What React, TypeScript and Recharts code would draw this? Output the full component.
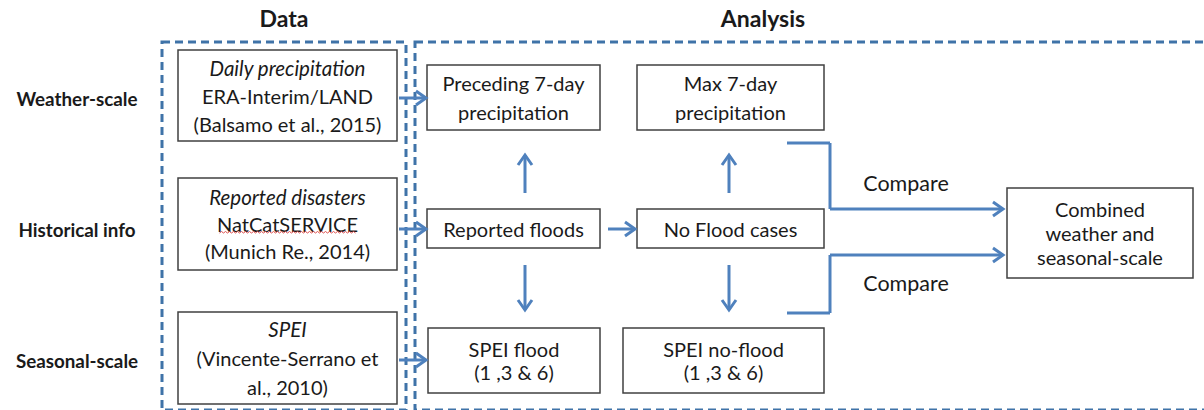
import * as React from 'react';
import { ReferenceArea, ReferenceLine, Scatter, ScatterChart, XAxis, YAxis } from 'recharts';

// ---- content ----
const groupTitles = ['Data', 'Analysis'];
const rowLabels = ['Weather-scale', 'Historical info', 'Seasonal-scale'];
const sourceTitles = ['Daily precipitation', 'Reported disasters', 'SPEI'];
const sourceRefs = [
  ['ERA-Interim/LAND', '(Balsamo et al., 2015)'],
  ['NatCatSERVICE', '(Munich Re., 2014)'],
  ['(Vincente-Serrano et', 'al., 2010)'],
];
const floodSteps = [['Preceding 7-day', 'precipitation'], ['Reported floods'], ['SPEI flood', '(1 ,3 & 6)']];
const noFloodSteps = [['Max 7-day', 'precipitation'], ['No Flood cases'], ['SPEI no-flood', '(1 ,3 & 6)']];
const resultLines = ['Combined', 'weather and', 'seasonal-scale'];
const edgeLabels = ['Compare', 'Compare'];

// ---- layout (diagram units = px) ----
const W = 1204;
const H = 410;
const FONT = 'Lato, "Open Sans", sans-serif';
const ARROW = '#4f81bd';
const DASH = '#3f73a8';
const BOX = '#404040';
const TEXT = '#1a1a1a';

const rowY = [98, 229, 360];
const sourceBoxes = [
  { x1: 178, x2: 397, y1: 50, y2: 141, lh: 28 },
  { x1: 178, x2: 397, y1: 178, y2: 270, lh: 27 },
  { x1: 178, x2: 397, y1: 312, y2: 404, lh: 29 },
];
const floodBoxes = [
  { x1: 427, x2: 600, y1: 65, y2: 130, lh: 29 },
  { x1: 427, x2: 600, y1: 209, y2: 248, lh: 24 },
  { x1: 428, x2: 600, y1: 328, y2: 393, lh: 23 },
];
const noFloodBoxes = [
  { x1: 637, x2: 824, y1: 65, y2: 130, lh: 29 },
  { x1: 637, x2: 824, y1: 209, y2: 248, lh: 24 },
  { x1: 623, x2: 824, y1: 328, y2: 393, lh: 23 },
];
const resultBox = { x1: 1007, x2: 1193, y1: 188, y2: 278, lh: 24 };

type Line = { text: string; italic?: boolean; squiggle?: boolean };

function wavy(cx: number, y: number, w: number) {
  let d = `M${cx - w / 2},${y}`;
  for (let x = cx - w / 2; x < cx + w / 2; x += 4) {
    d += ` l2,-1.5 l2,1.5`;
  }
  return d;
}

function boxShape(lines: Line[], lh: number) {
  return (p: any) => {
    const { x, y, width, height } = p;
    const cx = x + width / 2;
    const cy = y + height / 2;
    const top = cy - ((lines.length - 1) * lh) / 2;
    return (
      <g>
        <rect x={x} y={y} width={width} height={height} fill="#fff" stroke={BOX} strokeWidth={1.5} />
        {lines.map((l, i) => (
          <g key={i}>
            <text
              x={cx}
              y={top + i * lh}
              textAnchor="middle"
              dominantBaseline="central"
              fontFamily={FONT}
              fontSize={l.italic ? 20.5 : 20}
              fontStyle={l.italic ? 'italic' : 'normal'}
              fill={TEXT}
            >
              {l.text}
            </text>
            {l.squiggle ? (
              <path d={wavy(cx, top + i * lh + 9, 136)} fill="none" stroke="#e05050" strokeWidth={1} />
            ) : null}
          </g>
        ))}
      </g>
    );
  };
}

function arrowShape(head: boolean) {
  return (p: any) => {
    const { x1, y1, x2, y2 } = p;
    const ang = Math.atan2(y2 - y1, x2 - x1);
    const len = 10;
    const half = 7;
    const bx = x2 - len * Math.cos(ang);
    const by = y2 - len * Math.sin(ang);
    const nx = -Math.sin(ang) * half;
    const ny = Math.cos(ang) * half;
    return (
      <g>
        <line x1={x1} y1={y1} x2={x2} y2={y2} stroke={ARROW} strokeWidth={3} />
        {head ? (
          <polyline
            points={`${bx + nx},${by + ny} ${x2},${y2} ${bx - nx},${by - ny}`}
            fill="none"
            stroke={ARROW}
            strokeWidth={3}
            strokeLinejoin="miter"
          />
        ) : null}
      </g>
    );
  };
}

const titleShape = (p: any) => (
  <text
    x={p.cx}
    y={p.cy}
    textAnchor="middle"
    dominantBaseline="central"
    fontFamily={FONT}
    fontWeight={700}
    fontSize={p.payload.size}
    fill={TEXT}
  >
    {p.payload.text}
  </text>
);

const plainShape = (p: any) => (
  <text x={p.cx} y={p.cy} textAnchor="middle" dominantBaseline="central" fontFamily={FONT} fontSize={21.5} fill={TEXT}>
    {p.payload.text}
  </text>
);

export default function App() {
  const titlePoints = [
    { x: 284, y: 18, text: groupTitles[0], size: 23 },
    { x: 763, y: 18, text: groupTitles[1], size: 23 },
    ...rowLabels.map((t, i) => ({ x: 77, y: rowY[i], text: t, size: 18.8 })),
  ];
  const comparePoints = [
    { x: 906, y: 183, text: edgeLabels[0] },
    { x: 906, y: 283, text: edgeLabels[1] },
  ];

  const seg = (a: [number, number], b: [number, number], head: boolean, key: string) => (
    <ReferenceLine
      key={key}
      segment={[
        { x: a[0], y: a[1] },
        { x: b[0], y: b[1] },
      ]}
      ifOverflow="visible"
      shape={arrowShape(head)}
    />
  );

  return (
    <div style={{ position: 'absolute', left: 0, top: 0, background: '#fff' }}>
      <ScatterChart width={W} height={H} margin={{ top: 0, right: 0, bottom: 0, left: 0 }}>
        <XAxis hide type="number" dataKey="x" domain={[0, W]} />
        <YAxis hide type="number" dataKey="y" domain={[0, H]} reversed />

        {/* group frames */}
        <ReferenceArea
          x1={162}
          x2={406}
          y1={42}
          y2={410}
          ifOverflow="visible"
          fill="none"
          stroke={DASH}
          strokeWidth={3}
          strokeDasharray="8 5"
        />
        <ReferenceArea
          x1={415}
          x2={1220}
          y1={42}
          y2={410}
          ifOverflow="visible"
          fill="none"
          stroke={DASH}
          strokeWidth={3}
          strokeDasharray="8 5"
        />

        {/* data sources */}
        {sourceBoxes.map((b, i) => (
          <ReferenceArea
            key={`s${i}`}
            x1={b.x1}
            x2={b.x2}
            y1={b.y1}
            y2={b.y2}
            ifOverflow="visible"
            shape={boxShape(
              [
                { text: sourceTitles[i], italic: true },
                ...sourceRefs[i].map((t) => ({ text: t, squiggle: t === 'NatCatSERVICE' })),
              ],
              b.lh,
            )}
          />
        ))}

        {/* analysis */}
        {floodBoxes.map((b, i) => (
          <ReferenceArea
            key={`f${i}`}
            x1={b.x1}
            x2={b.x2}
            y1={b.y1}
            y2={b.y2}
            ifOverflow="visible"
            shape={boxShape(floodSteps[i].map((t) => ({ text: t })), b.lh)}
          />
        ))}
        {noFloodBoxes.map((b, i) => (
          <ReferenceArea
            key={`n${i}`}
            x1={b.x1}
            x2={b.x2}
            y1={b.y1}
            y2={b.y2}
            ifOverflow="visible"
            shape={boxShape(noFloodSteps[i].map((t) => ({ text: t })), b.lh)}
          />
        ))}
        <ReferenceArea
          x1={resultBox.x1}
          x2={resultBox.x2}
          y1={resultBox.y1}
          y2={resultBox.y2}
          ifOverflow="visible"
          shape={boxShape(resultLines.map((t) => ({ text: t })), resultBox.lh)}
        />

        {/* arrows: data -> analysis */}
        {rowY.map((y, i) => seg([399, y], [426, y], true, `in${i}`))}
        {seg([608, 229], [635, 229], true, 'rf')}
        {seg([525, 193], [525, 155], true, 'u1')}
        {seg([729, 193], [729, 155], true, 'u2')}
        {seg([525, 265], [525, 310], true, 'd1')}
        {seg([729, 265], [729, 310], true, 'd2')}

        {/* compare elbows */}
        {seg([787, 143], [830, 143], false, 'c1a')}
        {seg([830, 143], [830, 209], false, 'c1b')}
        {seg([830, 209], [1003, 209], true, 'c1c')}
        {seg([787, 313], [830, 313], false, 'c2a')}
        {seg([830, 313], [830, 255], false, 'c2b')}
        {seg([830, 255], [1003, 255], true, 'c2c')}

        <Scatter data={titlePoints} shape={titleShape} isAnimationActive={false} />
        <Scatter data={comparePoints} shape={plainShape} isAnimationActive={false} />
      </ScatterChart>
    </div>
  );
}
